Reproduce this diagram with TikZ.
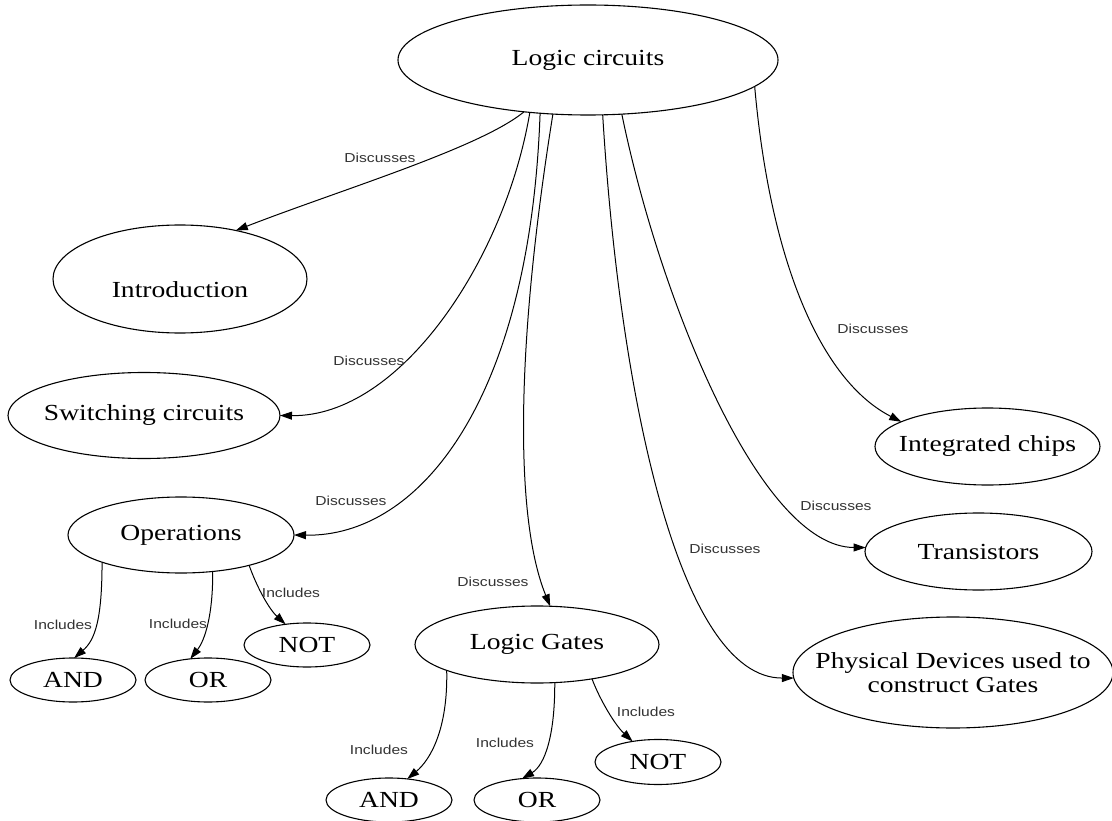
\documentclass[tikz,border=0pt]{standalone}
\usepackage{fontspec}
\setmainfont{Liberation Serif}[FakeStretch=1.2]
\newfontfamily\lblfont{Liberation Sans}[FakeStretch=1.2]
\usetikzlibrary{shapes.geometric,arrows.meta}
\begin{document}
\begin{tikzpicture}[x=1pt,y=-1pt,
  ell/.style={draw, ellipse, line width=1.1pt, inner sep=0pt, outer sep=0pt,
    font=\fontsize{23}{23.5}\selectfont, align=center},
  lbl/.style={font=\lblfont\fontsize{13}{13}\selectfont, text=black!80, inner sep=1pt},
  conn/.style={line width=1pt, -{Triangle[length=12pt,width=8pt]}}]
\useasboundingbox (0,0) rectangle (1112,821);
\fill[white] (0,0) rectangle (1112,821);

% nodes
\node[ell, minimum width=380, minimum height=110] (lc) at (588,60) {\makebox[0pt]{Logic circuits}};
\node[ell, minimum width=254, minimum height=108] (intro) at (180,279) {\raisebox{-18.5pt}[0pt][0pt]{\makebox[0pt]{Introduction}}};
\node[ell, minimum width=272, minimum height=86] (sw) at (144,415.5) {\makebox[0pt]{Switching circuits}};
\node[ell, minimum width=226, minimum height=76] (ops) at (181,535) {\makebox[0pt]{Operations}};
\node[ell, minimum width=126, minimum height=44] (oand) at (73,680) {\makebox[0pt]{AND}};
\node[ell, minimum width=126, minimum height=44] (oor) at (208,680) {\makebox[0pt]{OR}};
\node[ell, minimum width=126, minimum height=44] (onot) at (307,645) {\makebox[0pt]{NOT}};
\node[ell, minimum width=244, minimum height=77] (lg) at (537,644.5) {\makebox[0pt]{Logic Gates}};
\node[ell, minimum width=126, minimum height=44] (gand) at (389,800) {\makebox[0pt]{AND}};
\node[ell, minimum width=126, minimum height=44] (gor) at (537,800) {\makebox[0pt]{OR}};
\node[ell, minimum width=126, minimum height=45] (gnot) at (658,762) {\makebox[0pt]{NOT}};
\node[ell, minimum width=225, minimum height=77] (ic) at (987.5,446.5) {\makebox[0pt]{Integrated chips}};
\node[ell, minimum width=227, minimum height=77] (tr) at (978.5,551.5) {\makebox[0pt]{Transistors}};
\node[ell, minimum width=320, minimum height=111] (pd) at (953,672.5) {\makebox[0pt]{Physical Devices used to}\\\makebox[0pt]{construct Gates}};

% connectors from Logic circuits
\draw[conn] (lc.219.5) .. controls (480,148) and (340,190) .. (intro.41.5);
\draw[conn] (lc.222.1) .. controls (505,260) and (400,417) .. (sw.0);
\draw[conn] (lc.228.6) .. controls (530,400) and (420,537) .. (ops.0);
\draw[conn] (lc.237.1) .. controls (515,350) and (515,520) .. (lg.71);
\draw[conn] (lc.285.3) .. controls (620,400) and (680,678) .. (pd.182);
\draw[conn] (lc.302.2) .. controls (660,300) and (760,547) .. (tr.178);
\draw[conn] (lc.351.1) .. controls (770,260) and (820,380) .. (ic.164);

% connectors from Operations
\draw[conn] (ops.199.4) .. controls (102,620) and (95,640) .. (oand.87);
\draw[conn] (ops.311.3) .. controls (213,615) and (205,640) .. (oor.130.5);
\draw[conn] (ops.336.4) .. controls (258,590) and (270,610) .. (onot.136.9);

% connectors from Logic Gates
\draw[conn] (lg.196.3) .. controls (448,730) and (430,760) .. (gand.49.5);
\draw[conn] (lg.295.6) .. controls (555,735) and (545,765) .. (gor.125);
\draw[conn] (lg.328.4) .. controls (600,700) and (615,725) .. (gnot.141);

% labels
\node[lbl] (l1) at (380,158) {Discusses};
\node[lbl] (l2) at (369,361) {Discusses};
\node[lbl] (l3) at (351,501) {Discusses};
\node[lbl] (l4) at (493,582) {Discusses};
\node[lbl] (l5) at (725,549) {Discusses};
\node[lbl] (l6) at (836,506) {Discusses};
\node[lbl] (l7) at (873,329) {Discusses};
\node[lbl] (i1) at (63,625) {Includes};
\node[lbl] (i2) at (178,624) {Includes};
\node[lbl] (i3) at (291,593) {Includes};
\node[lbl] (i4) at (379,750) {Includes};
\node[lbl] (i5) at (505,743) {Includes};
\node[lbl] (i6) at (646,712) {Includes};
\end{tikzpicture}
\end{document}
